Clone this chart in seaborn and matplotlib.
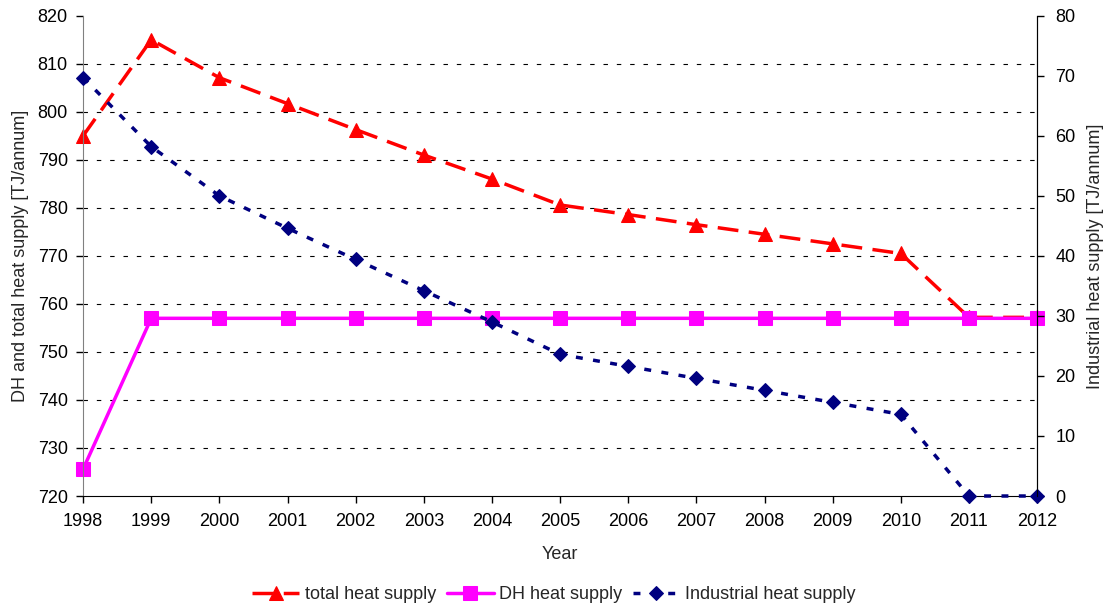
import numpy as np
import pandas as pd
import matplotlib
matplotlib.use("Agg")
import matplotlib.pyplot as plt
import seaborn as sns

years = list(range(1998, 2013))
total_heat = [795.0, 815.0, 807.1, 801.7, 796.3, 791.0, 786.0, 780.6, 778.6, 776.5, 774.5, 772.5, 770.5, 757.2, 757.2]
dh_heat = [725.6, 757.0, 757.0, 757.0, 757.0, 757.0, 757.0, 757.0, 757.0, 757.0, 757.0, 757.0, 757.0, 757.0, 757.0]
industrial_heat = [69.7, 58.2, 50.0, 44.6, 39.4, 34.2, 29.0, 23.6, 21.6, 19.6, 17.6, 15.6, 13.6, 0.0, 0.0]

df = pd.DataFrame({"Year": years, "total": total_heat, "dh": dh_heat, "ind": industrial_heat})

sns.set_style("white")
plt.rcParams["font.family"] = ["Liberation Sans", "DejaVu Sans"]
plt.rcParams["font.size"] = 12

fig = plt.figure(figsize=(11.08, 6.06), dpi=100)
ax = fig.add_axes([0.075, 0.1815, 0.861, 0.7925])
ax2 = ax.twinx()

sns.lineplot(data=df, x="Year", y="total", ax=ax, color="#ff0000", lw=2.5,
             linestyle=(0, (6, 3)), marker="^", markersize=10, markeredgecolor="#ff0000",
             label="total heat supply", clip_on=False, legend=False)
sns.lineplot(data=df, x="Year", y="dh", ax=ax, color="#ff00ff", lw=2.5,
             marker="s", markersize=10, markeredgecolor="#ff00ff",
             label="DH heat supply", clip_on=False, legend=False)
sns.lineplot(data=df, x="Year", y="ind", ax=ax2, color="#000080", lw=2.5,
             linestyle=(0, (2, 3)), marker="D", markersize=7, markeredgecolor="#000080",
             label="Industrial heat supply", clip_on=False, legend=False)

ax.set_xlim(1998, 2012)
ax.set_ylim(720, 820)
ax2.set_ylim(0, 80)
ax.set_xticks(years)
ax.set_yticks(np.arange(720, 821, 10))
ax2.set_yticks(np.arange(0, 81, 10))

for yv in np.arange(730, 820, 10):
    ax.axhline(yv, color="black", lw=0.8, linestyle=(0, (4, 8)), zorder=0)

for a in (ax, ax2):
    a.tick_params(labelsize=13, length=5, width=1, direction="out", colors="black")
    a.spines["top"].set_visible(False)
ax.tick_params(axis="x", pad=7)
ax.tick_params(axis="y", pad=6)
ax2.tick_params(axis="y", pad=8)
ax.spines["left"].set_color("#808080")
ax.spines["bottom"].set_color("black")
ax2.spines["right"].set_color("black")
ax2.spines["left"].set_visible(False)
ax2.spines["bottom"].set_visible(False)
ax.tick_params(axis="both", left=True, bottom=True)
ax2.tick_params(axis="y", right=True)

ax.set_xlabel("Year", fontsize=13, labelpad=12)
ax.set_ylabel("DH and total heat supply [TJ/annum]", fontsize=13, labelpad=6)
ax2.set_ylabel("Industrial heat supply [TJ/annum]", fontsize=13, labelpad=8)

h1, l1 = ax.get_legend_handles_labels()
h2, l2 = ax2.get_legend_handles_labels()
fig.legend(h1 + h2, l1 + l2, loc="lower center", bbox_to_anchor=(0.5, -0.022), ncol=3,
           frameon=False, fontsize=13, handlelength=2.6, columnspacing=0.6, handletextpad=0.3)

fig.savefig("out.png", dpi=100)
